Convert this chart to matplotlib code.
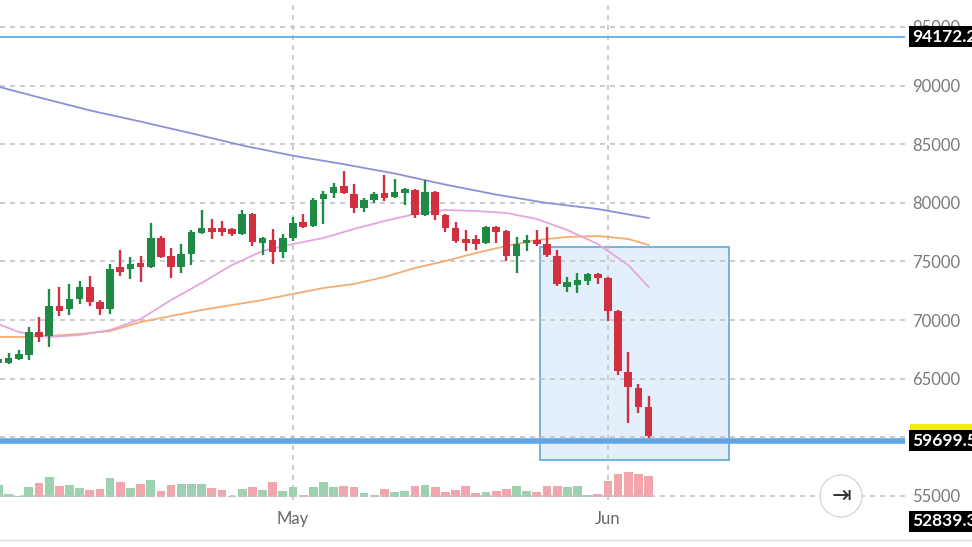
import matplotlib
matplotlib.use('Agg')
import matplotlib.pyplot as plt
import matplotlib.dates as mdates
from matplotlib.patches import Rectangle, Ellipse
from matplotlib.transforms import blended_transform_factory
import numpy as np
import pandas as pd

plt.rcParams['font.family'] = ['Lato', 'DejaVu Sans']

# daily candles, 2 Apr -> 5 Jun
dates = pd.date_range('2024-04-02', '2024-06-05', freq='D')
opens = [66339, 66339, 66680, 67021, 68983, 68642, 71201, 70945, 71798, 72822,
         71542, 70945, 74528, 74357, 74869, 74528, 77002, 75466, 74528, 75637,
         77428, 77855, 77855, 77770, 77343, 79049, 76575, 76831, 75807, 77002,
         78367, 78026, 80329, 80840, 81437, 80755, 79561, 80243, 80840, 80499,
         80840, 81096, 78964, 80925, 78964, 77855, 76916, 76916, 76575, 77941,
         77600, 75466, 76575, 76831, 76490, 75466, 72822, 72992, 73334, 73931,
         73590, 70775, 65572, 64207, 62586]
highs = [66850, 67192, 67448, 69410, 70263, 72651, 72822, 73078, 73334, 73760,
         71713, 74784, 75978, 75381, 75466, 78281, 77172, 76149, 76490, 77684,
         79390, 78622, 78452, 77855, 79390, 79134, 77090, 77770, 77343, 78793,
         79049, 80414, 81011, 81692, 82717, 81608, 80414, 80925, 82375, 82035,
         81250, 81181, 81949, 81011, 79049, 78367, 77684, 77257, 78026, 78026,
         77684, 77087, 77257, 77684, 77941, 75978, 73675, 74016, 74016, 74016,
         73675, 70860, 67277, 64548, 63524]
lows = [66170, 66254, 66595, 66595, 68130, 67704, 70348, 70433, 71372, 71201,
        70433, 70519, 73760, 73504, 73248, 74442, 75295, 73590, 74016, 74698,
        77343, 76916, 77172, 77172, 77257, 76319, 75551, 74784, 75295, 76746,
        77855, 77941, 78196, 80414, 80755, 79134, 79220, 79987, 80158, 80414,
        79818, 78708, 78878, 78537, 77513, 76575, 75893, 75978, 76490, 76575,
        75040, 74016, 75893, 76319, 75381, 72907, 72395, 72310, 72992, 73078,
        69922, 65315, 61222, 62074, 59943]
closes = [66680, 66766, 67107, 68983, 68557, 71201, 70775, 71798, 72822, 71542,
          70945, 74357, 74101, 74784, 74528, 77002, 75381, 74528, 75637, 77513,
          77855, 77513, 77513, 77343, 79049, 76660, 77002, 75807, 77002, 78281,
          77941, 80243, 80755, 81352, 80840, 79561, 80243, 80755, 80414, 80925,
          81181, 78964, 80925, 78964, 77855, 76746, 76575, 76490, 77941, 77513,
          75466, 76490, 76831, 76490, 75551, 73078, 73248, 73419, 73931, 73590,
          70775, 65657, 64292, 62586, 60113]
volumes = [12, 3, 1.5, 10, 14, 20, 11, 12, 9, 7, 8, 19, 15, 9, 13, 17, 6, 12, 13, 13,
           13, 9, 7, 1.5, 8, 10, 7, 15, 6, 10, 2, 10, 15, 10, 11, 10, 4, 2, 8, 5,
           6, 11, 12, 10, 5, 7, 11, 4, 5, 6, 8, 11, 6, 5, 11, 11, 10, 11, 2, 3,
           16, 23, 25, 23, 21]

# moving averages, read every few days (day offset from 1 May)
ma_slow_days = [-30, -25, -20, -15, -10, -5, 0, 5, 10, 15, 20, 25, 30, 35]
ma_slow = [90138, 88995, 87886, 86931, 85933, 84900, 84022, 83297, 82503, 81557,
           80704, 79987, 79475, 78708]
ma_days = [-30, -27, -24, -21, -18, -15, -12, -9, -6, -3, 0, 3, 6, 9, 12, 15, 18,
           21, 24, 27, 30, 33, 35]
ma_fast = [70007, 68983, 68557, 68727, 69154, 70092, 71713, 73163, 74698, 75893,
           76490, 77002, 77770, 78452, 79049, 79390, 79305, 79134, 78622, 77684,
           76490, 74698, 72822]
ma_mid = [68557, 68557, 68642, 68813, 69068, 69836, 70348, 70860, 71287, 71713,
          72231, 72737, 73078, 73675, 74442, 75040, 75722, 76319, 76831, 77087,
          77172, 76916, 76405]

level_top = 94172.2
level_low = 59699.5
last_label = 52839.3
last_price = 60200
box_start, box_end = 24.3, 42.9   # day offsets from 1 May
box_low, box_high = 58065, 76234

UP = '#1f8a45'
DOWN = '#d0303f'
UP_VOL = '#9dd2b0'
DOWN_VOL = '#f2a5ad'

W, H = 972, 547
fig = plt.figure(figsize=(W / 100, H / 100), dpi=100)
ax = fig.add_axes([0, (H - 500) / H, 905 / W, 500 / H])
vol = fig.add_axes([0, (H - 497) / H, 905 / W, 60 / H], sharex=ax)
vol.set_zorder(0)
ax.set_zorder(1)
ax.patch.set_alpha(0)

may1 = mdates.date2num(pd.Timestamp('2024-05-01'))
x = mdates.date2num(dates)
up = np.array(closes) >= np.array(opens)

# volume
vol.bar(x, volumes, width=0.86, color=np.where(up, UP_VOL, DOWN_VOL))
vol.set_ylim(0, 60)
vol.axis('off')

# grid
ax.set_ylim(97303 - 85.3 * 500, 97303)
ax.set_xlim(may1 - 28.84, may1 + 60.24)
ax.set_yticks(np.arange(55000, 95001, 5000))
ax.set_xticks([may1, mdates.date2num(pd.Timestamp('2024-06-01'))])
ax.set_xticklabels(['May', 'Jun'])
ax.yaxis.tick_right()
ax.tick_params(axis='y', length=0, pad=5, labelcolor='#7a7a7a', labelsize=12)
ax.tick_params(axis='x', length=0, pad=8, labelcolor='#666666', labelsize=12)
ax.grid(True, color='#c4c4c4', linestyle=(0, (3, 3)), linewidth=1.2)
for s in ax.spines.values():
    s.set_visible(False)

# moving averages
ax.plot(may1 + np.array(ma_slow_days), ma_slow, color='#8e90d6', lw=1.3, zorder=2)
ax.plot(may1 + np.array(ma_days), ma_mid, color='#f5ad70', lw=1.3, zorder=2)
ax.plot(may1 + np.array(ma_days), ma_fast, color='#e4a6dc', lw=1.3, zorder=2)

# highlighted zone
ax.add_patch(Rectangle((may1 + box_start, box_low), box_end - box_start, box_high - box_low,
                       facecolor='#e4effc', edgecolor='#74b4de', lw=1.4, zorder=1.5))

# candles
o = np.array(opens); c = np.array(closes)
col = np.where(up, UP, DOWN)
ax.vlines(x, lows, highs, colors=col, lw=1.7, zorder=3)
body = np.maximum(np.abs(c - o), 150)
ax.bar(x, body, bottom=np.minimum(o, c), width=0.75, color=col, zorder=4)

# horizontal levels
ax.axhline(level_top, color='#6cb0ea', lw=1.4, zorder=5)
ax.axhline(level_low, color='#5fa6e8', lw=4, zorder=5)

# price labels on the right
tr = blended_transform_factory(fig.transFigure, ax.transData)
# last-price marker peeking out behind the level label
ax.add_patch(Rectangle((910 / W, last_price - 900), 70 / W, 1800, transform=tr,
                       facecolor='#f2ea1a', edgecolor='none', clip_on=False, zorder=6))
for v, s in [(level_top, '94172.24'), (level_low, '59699.54'), (last_label, '52839.31')]:
    ax.text(912 / W, v, s, transform=tr, color='white', fontsize=12.5, fontweight='bold',
            va='center', ha='left', clip_on=False, zorder=7,
            bbox=dict(boxstyle='square,pad=0.15', fc='black', ec='none'))

# scroll button
fig.patches.append(Ellipse((841 / W, 1 - 496 / H), 42 / W, 42 / H, transform=fig.transFigure,
                           facecolor='white', edgecolor='#d8d8d8', lw=1, zorder=8))
fig.text(841 / W, 1 - 496 / H, '⇥', ha='center', va='center', fontsize=17,
         color='#333333', family=['DejaVu Sans'], zorder=9)

# bottom border
fig.add_artist(plt.Line2D([0, 1], [1 - 540 / H, 1 - 540 / H], transform=fig.transFigure,
                          color='#d9d9d9', lw=1))

fig.savefig('out.png', dpi=100)
